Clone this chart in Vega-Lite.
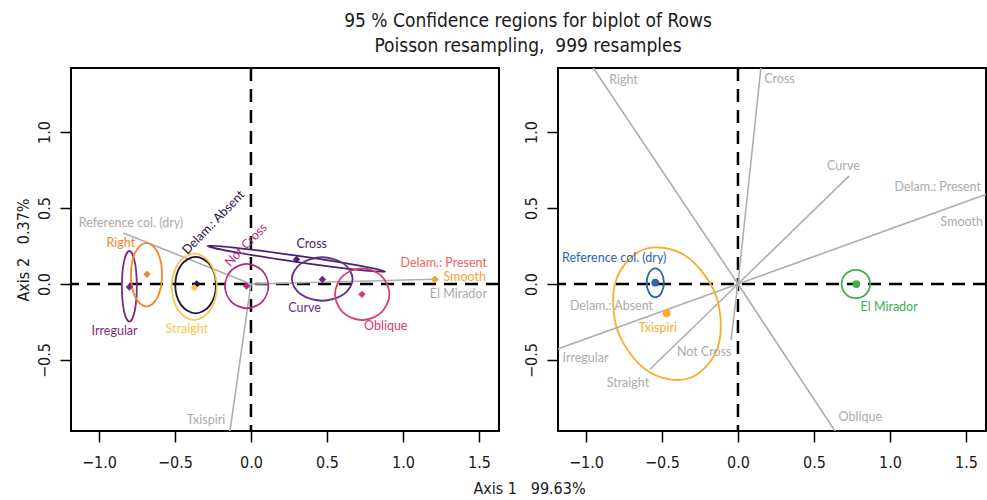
{
  "$schema": "https://vega.github.io/schema/vega-lite/v6.json",
  "padding": {"left": 14, "top": 11, "right": 0, "bottom": 0},
  "background": "white",
  "title": {
    "text": ["95 % Confidence regions for biplot of Rows", "Poisson resampling,\u00a0 999 resamples"],
    "font": "Liberation Sans Narrow, DejaVu Sans Condensed, Roboto, sans-serif",
    "fontSize": 19, "fontWeight": "normal", "lineHeight": 25, "color": "#1a1a1a",
    "anchor": "start", "align": "center", "dx": 457, "frame": "group", "offset": 10
  },
  "config": {
    "view": {"stroke": "black", "strokeWidth": 2},
    "axis": {
      "grid": false, "domain": false, "tickColor": "black", "tickWidth": 1.5, "tickSize": 11,
      "labelFont": "Liberation Sans Narrow, DejaVu Sans Condensed, Roboto, sans-serif",
      "labelFontSize": 16, "labelColor": "#1a1a1a",
      "titleFont": "Liberation Sans Narrow, DejaVu Sans Condensed, Roboto, sans-serif",
      "titleFontSize": 16, "titleFontWeight": "normal", "titleColor": "#1a1a1a"
    },
    "text": {"font": "Lato", "fontSize": 12.5, "baseline": "middle"}
  },
  "datasets": {
    "ellL": [
      {"name": "Irregular", "i": 0, "x": -0.751, "y": -0.015}, {"name": "Irregular", "i": 1, "x": -0.765, "y": 0.149}, {"name": "Irregular", "i": 2, "x": -0.8, "y": 0.217}, {"name": "Irregular", "i": 3, "x": -0.835, "y": 0.149}, {"name": "Irregular", "i": 4, "x": -0.849, "y": -0.015}, {"name": "Irregular", "i": 5, "x": -0.835, "y": -0.179}, {"name": "Irregular", "i": 6, "x": -0.8, "y": -0.247}, {"name": "Irregular", "i": 7, "x": -0.765, "y": -0.179},
      {"name": "Right", "i": 0, "x": -0.585, "y": 0.061}, {"name": "Right", "i": 1, "x": -0.615, "y": 0.21}, {"name": "Right", "i": 2, "x": -0.687, "y": 0.271}, {"name": "Right", "i": 3, "x": -0.76, "y": 0.21}, {"name": "Right", "i": 4, "x": -0.79, "y": 0.061}, {"name": "Right", "i": 5, "x": -0.76, "y": -0.088}, {"name": "Right", "i": 6, "x": -0.687, "y": -0.149}, {"name": "Right", "i": 7, "x": -0.615, "y": -0.088},
      {"name": "Delam.: Absent", "i": 0, "x": -0.23, "y": -0.007}, {"name": "Delam.: Absent", "i": 1, "x": -0.269, "y": 0.125}, {"name": "Delam.: Absent", "i": 2, "x": -0.364, "y": 0.179}, {"name": "Delam.: Absent", "i": 3, "x": -0.459, "y": 0.125}, {"name": "Delam.: Absent", "i": 4, "x": -0.498, "y": -0.007}, {"name": "Delam.: Absent", "i": 5, "x": -0.459, "y": -0.139}, {"name": "Delam.: Absent", "i": 6, "x": -0.364, "y": -0.193}, {"name": "Delam.: Absent", "i": 7, "x": -0.269, "y": -0.139},
      {"name": "Straight", "i": 0, "x": -0.224, "y": -0.018}, {"name": "Straight", "i": 1, "x": -0.268, "y": 0.137}, {"name": "Straight", "i": 2, "x": -0.373, "y": 0.201}, {"name": "Straight", "i": 3, "x": -0.478, "y": 0.137}, {"name": "Straight", "i": 4, "x": -0.522, "y": -0.018}, {"name": "Straight", "i": 5, "x": -0.478, "y": -0.173}, {"name": "Straight", "i": 6, "x": -0.373, "y": -0.237}, {"name": "Straight", "i": 7, "x": -0.268, "y": -0.173},
      {"name": "Not Cross", "i": 0, "x": 0.115, "y": -0.014}, {"name": "Not Cross", "i": 1, "x": 0.073, "y": 0.089}, {"name": "Not Cross", "i": 2, "x": -0.028, "y": 0.132}, {"name": "Not Cross", "i": 3, "x": -0.129, "y": 0.089}, {"name": "Not Cross", "i": 4, "x": -0.171, "y": -0.014}, {"name": "Not Cross", "i": 5, "x": -0.129, "y": -0.117}, {"name": "Not Cross", "i": 6, "x": -0.028, "y": -0.16}, {"name": "Not Cross", "i": 7, "x": 0.073, "y": -0.117},
      {"name": "Cross", "i": 0, "x": 0.882, "y": 0.082}, {"name": "Cross", "i": 1, "x": 0.713, "y": 0.1205}, {"name": "Cross", "i": 2, "x": 0.301, "y": 0.186}, {"name": "Cross", "i": 3, "x": -0.113, "y": 0.2395}, {"name": "Cross", "i": 4, "x": -0.286, "y": 0.25}, {"name": "Cross", "i": 5, "x": -0.117, "y": 0.2115}, {"name": "Cross", "i": 6, "x": 0.295, "y": 0.146}, {"name": "Cross", "i": 7, "x": 0.709, "y": 0.0925},
      {"name": "Curve", "i": 0, "x": 0.669, "y": 0.033}, {"name": "Curve", "i": 1, "x": 0.61, "y": 0.134}, {"name": "Curve", "i": 2, "x": 0.469, "y": 0.176}, {"name": "Curve", "i": 3, "x": 0.328, "y": 0.134}, {"name": "Curve", "i": 4, "x": 0.269, "y": 0.033}, {"name": "Curve", "i": 5, "x": 0.328, "y": -0.068}, {"name": "Curve", "i": 6, "x": 0.469, "y": -0.11}, {"name": "Curve", "i": 7, "x": 0.61, "y": -0.068},
      {"name": "Oblique", "i": 0, "x": 0.911, "y": -0.067}, {"name": "Oblique", "i": 1, "x": 0.858, "y": 0.053}, {"name": "Oblique", "i": 2, "x": 0.732, "y": 0.103}, {"name": "Oblique", "i": 3, "x": 0.605, "y": 0.053}, {"name": "Oblique", "i": 4, "x": 0.553, "y": -0.067}, {"name": "Oblique", "i": 5, "x": 0.605, "y": -0.187}, {"name": "Oblique", "i": 6, "x": 0.732, "y": -0.237}, {"name": "Oblique", "i": 7, "x": 0.858, "y": -0.187}
    ],
    "ptsL": [
      {"name": "Irregular", "x": -0.8, "y": -0.02},
      {"name": "Right", "x": -0.684, "y": 0.064},
      {"name": "Delam.: Absent", "x": -0.357, "y": 0.0},
      {"name": "Straight", "x": -0.373, "y": -0.024},
      {"name": "Not Cross", "x": -0.029, "y": -0.013},
      {"name": "Cross", "x": 0.3, "y": 0.162},
      {"name": "Curve", "x": 0.47, "y": 0.03},
      {"name": "Oblique", "x": 0.73, "y": -0.068},
      {"name": "Delam.: Present", "x": 1.21, "y": 0.03},
      {"name": "Smooth", "x": 1.21, "y": 0.03}
    ],
    "colL": [
      {"name": "Reference col. (dry)", "x": -0.84, "y": 0.335},
      {"name": "El Mirador", "x": 1.204, "y": 0.031},
      {"name": "Txispiri", "x": -0.15, "y": -1.05}
    ],
    "labL": [
      {"name": "Reference col. (dry)", "x": -0.789, "y": 0.401},
      {"name": "Right", "x": -0.856, "y": 0.268},
      {"name": "Irregular", "x": -0.897, "y": -0.307},
      {"name": "Straight", "x": -0.422, "y": -0.296},
      {"name": "Cross", "x": 0.4, "y": 0.261},
      {"name": "Curve", "x": 0.353, "y": -0.16},
      {"name": "Oblique", "x": 0.887, "y": -0.274},
      {"name": "Txispiri", "x": -0.296, "y": -0.895},
      {"name": "Delam.: Absent", "x": -0.247, "y": 0.405},
      {"name": "Not Cross", "x": -0.033, "y": 0.257},
      {"name": "Delam.: Present", "x": 1.553, "y": 0.136},
      {"name": "Smooth", "x": 1.546, "y": 0.048},
      {"name": "El Mirador", "x": 1.553, "y": -0.066}
    ],
    "rowR": [
      {"name": "Right", "x": -1.047, "y": 1.563},
      {"name": "Cross", "x": 0.166, "y": 1.563},
      {"name": "Curve", "x": 0.732, "y": 0.711},
      {"name": "Smooth", "x": 1.7, "y": 0.614},
      {"name": "Oblique", "x": 0.697, "y": -1.056},
      {"name": "Not Cross", "x": -0.046, "y": -0.368},
      {"name": "Straight", "x": -0.579, "y": -0.561},
      {"name": "Irregular", "x": -1.25, "y": -0.45}
    ],
    "ellR": [
      {"name": "Reference col. (dry)", "i": 0, "x": -0.487, "y": 0.008}, {"name": "Reference col. (dry)", "i": 1, "x": -0.504, "y": 0.075}, {"name": "Reference col. (dry)", "i": 2, "x": -0.544, "y": 0.103}, {"name": "Reference col. (dry)", "i": 3, "x": -0.584, "y": 0.075}, {"name": "Reference col. (dry)", "i": 4, "x": -0.601, "y": 0.008}, {"name": "Reference col. (dry)", "i": 5, "x": -0.584, "y": -0.059}, {"name": "Reference col. (dry)", "i": 6, "x": -0.544, "y": -0.087}, {"name": "Reference col. (dry)", "i": 7, "x": -0.504, "y": -0.059},
      {"name": "Txispiri", "i": 0, "x": -0.6186, "y": 0.2285}, {"name": "Txispiri", "i": 1, "x": -0.8027, "y": 0.0227}, {"name": "Txispiri", "i": 2, "x": -0.7901, "y": -0.3107}, {"name": "Txispiri", "i": 3, "x": -0.5883, "y": -0.5763}, {"name": "Txispiri", "i": 4, "x": -0.3154, "y": -0.6185}, {"name": "Txispiri", "i": 5, "x": -0.1313, "y": -0.4127}, {"name": "Txispiri", "i": 6, "x": -0.1439, "y": -0.0793}, {"name": "Txispiri", "i": 7, "x": -0.3457, "y": 0.1863},
      {"name": "El Mirador", "i": 0, "x": 0.87, "y": 0.0}, {"name": "El Mirador", "i": 1, "x": 0.842, "y": 0.066}, {"name": "El Mirador", "i": 2, "x": 0.776, "y": 0.093}, {"name": "El Mirador", "i": 3, "x": 0.71, "y": 0.066}, {"name": "El Mirador", "i": 4, "x": 0.682, "y": 0.0}, {"name": "El Mirador", "i": 5, "x": 0.71, "y": -0.066}, {"name": "El Mirador", "i": 6, "x": 0.776, "y": -0.093}, {"name": "El Mirador", "i": 7, "x": 0.842, "y": -0.066}
    ],
    "ptsR": [
      {"name": "Reference col. (dry)", "x": -0.544, "y": 0.009},
      {"name": "Txispiri", "x": -0.469, "y": -0.193},
      {"name": "El Mirador", "x": 0.779, "y": 0.0}
    ],
    "labR": [
      {"name": "Right", "x": -0.753, "y": 1.342},
      {"name": "Cross", "x": 0.273, "y": 1.349},
      {"name": "Curve", "x": 0.694, "y": 0.778},
      {"name": "Reference col. (dry)", "x": -0.814, "y": 0.169},
      {"name": "Delam.: Absent", "x": -0.832, "y": -0.143},
      {"name": "Txispiri", "x": -0.528, "y": -0.288},
      {"name": "El Mirador", "x": 0.995, "y": -0.153},
      {"name": "Irregular", "x": -1.003, "y": -0.489},
      {"name": "Not Cross", "x": -0.222, "y": -0.445},
      {"name": "Straight", "x": -0.724, "y": -0.649},
      {"name": "Oblique", "x": 0.805, "y": -0.873},
      {"name": "Delam.: Present", "x": 1.599, "y": 0.64},
      {"name": "Smooth", "x": 1.612, "y": 0.41}
    ]
  },
  "resolve": {"scale": {"color": "independent"}},
  "spacing": 59,
  "bounds": "flush",
  "hconcat": [
    {
      "width": 428, "height": 363,
      "layer": [
        {
          "data": {"values": [{}]},
          "mark": {"type": "rule", "color": "black", "strokeWidth": 2.5, "strokeDash": [13, 8]},
          "encoding": {
            "x": {"datum": 0, "type": "quantitative", "scale": {"domain": [-1.184, 1.632], "nice": false, "zero": false},
              "axis": {"values": [-1, -0.5, 0, 0.5, 1, 1.5], "format": ".1f", "labelPadding": 12, "title": "Axis 1\u00a0\u00a0 99.63%", "titleX": 458, "titlePadding": 10}}
          }
        },
        {
          "data": {"values": [{}]},
          "mark": {"type": "rule", "color": "black", "strokeWidth": 2.5, "strokeDash": [13, 8]},
          "encoding": {
            "y": {"datum": 0, "type": "quantitative", "scale": {"domain": [-0.967, 1.421], "nice": false, "zero": false},
              "axis": {"values": [-0.5, 0, 0.5, 1], "format": ".1f", "labelAngle": -90, "labelAlign": "center", "labelBaseline": "bottom", "labelPadding": 8, "title": "Axis 2\u00a0\u00a0 0.37%", "titlePadding": 5}}
          }
        },
        {
          "data": {"name": "colL"},
          "mark": {"type": "rule", "color": "#AEAEAE", "strokeWidth": 1.6, "clip": true},
          "encoding": {
            "x": {"field": "x", "type": "quantitative"},
            "y": {"field": "y", "type": "quantitative"},
            "x2": {"datum": 0},
            "y2": {"datum": 0}
          }
        },
        {
          "data": {"name": "ellL"},
          "mark": {"type": "line", "interpolate": "cardinal-closed", "strokeWidth": 1.8},
          "encoding": {
            "x": {"field": "x", "type": "quantitative"},
            "y": {"field": "y", "type": "quantitative"},
            "order": {"field": "i", "type": "quantitative"},
            "color": {"field": "name", "type": "nominal", "legend": null,
              "scale": {"domain": ["Irregular", "Right", "Delam.: Absent", "Straight", "Not Cross", "Cross", "Curve", "Oblique", "Delam.: Present", "Smooth", "Reference col. (dry)", "Txispiri", "El Mirador"],
                "range": ["#7D2B86", "#F4862B", "#1D1237", "#F6C853", "#B42A7F", "#4A2270", "#6A2B8D", "#D73E6D", "#F2625B", "#F6A43B", "#ABABAB", "#ABABAB", "#ABABAB"]}}
          }
        },
        {
          "data": {"name": "ptsL"},
          "mark": {"type": "point", "shape": "diamond", "filled": true, "opacity": 1, "size": 55},
          "encoding": {
            "x": {"field": "x", "type": "quantitative"},
            "y": {"field": "y", "type": "quantitative"},
            "color": {"field": "name", "type": "nominal", "legend": null}
          }
        },
        {
          "data": {"name": "labL"},
          "transform": [{"filter": {"field": "name", "oneOf": ["Reference col. (dry)", "Right", "Irregular", "Straight", "Cross", "Curve", "Oblique", "Txispiri"]}}],
          "mark": {"type": "text", "align": "center"},
          "encoding": {
            "x": {"field": "x", "type": "quantitative"},
            "y": {"field": "y", "type": "quantitative"},
            "text": {"field": "name"},
            "color": {"field": "name", "type": "nominal", "legend": null}
          }
        },
        {
          "data": {"name": "labL"},
          "transform": [{"filter": {"field": "name", "oneOf": ["Delam.: Absent", "Not Cross"]}}],
          "mark": {"type": "text", "align": "center", "angle": -46},
          "encoding": {
            "x": {"field": "x", "type": "quantitative"},
            "y": {"field": "y", "type": "quantitative"},
            "text": {"field": "name"},
            "color": {"field": "name", "type": "nominal", "legend": null}
          }
        },
        {
          "data": {"name": "labL"},
          "transform": [{"filter": {"field": "name", "oneOf": ["Delam.: Present", "Smooth", "El Mirador"]}}],
          "mark": {"type": "text", "align": "right"},
          "encoding": {
            "x": {"field": "x", "type": "quantitative"},
            "y": {"field": "y", "type": "quantitative"},
            "text": {"field": "name"},
            "color": {"field": "name", "type": "nominal", "legend": null}
          }
        }
      ]
    },
    {
      "width": 428, "height": 363,
      "layer": [
        {
          "data": {"values": [{}]},
          "mark": {"type": "rule", "color": "black", "strokeWidth": 2.5, "strokeDash": [13, 8]},
          "encoding": {
            "x": {"datum": 0, "type": "quantitative", "scale": {"domain": [-1.184, 1.632], "nice": false, "zero": false},
              "axis": {"values": [-1, -0.5, 0, 0.5, 1, 1.5], "format": ".1f", "labelPadding": 12, "title": null}}
          }
        },
        {
          "data": {"values": [{}]},
          "mark": {"type": "rule", "color": "black", "strokeWidth": 2.5, "strokeDash": [13, 8]},
          "encoding": {
            "y": {"datum": 0, "type": "quantitative", "scale": {"domain": [-0.967, 1.421], "nice": false, "zero": false},
              "axis": {"values": [-0.5, 0, 0.5, 1], "format": ".1f", "labelAngle": -90, "labelAlign": "center", "labelBaseline": "bottom", "labelPadding": 8, "title": null}}
          }
        },
        {
          "data": {"name": "rowR"},
          "mark": {"type": "rule", "color": "#AEAEAE", "strokeWidth": 1.6, "clip": true},
          "encoding": {
            "x": {"field": "x", "type": "quantitative"},
            "y": {"field": "y", "type": "quantitative"},
            "x2": {"datum": 0},
            "y2": {"datum": 0}
          }
        },
        {
          "data": {"name": "ellR"},
          "mark": {"type": "line", "interpolate": "cardinal-closed", "strokeWidth": 1.8},
          "encoding": {
            "x": {"field": "x", "type": "quantitative"},
            "y": {"field": "y", "type": "quantitative"},
            "order": {"field": "i", "type": "quantitative"},
            "color": {"field": "name", "type": "nominal", "legend": null,
              "scale": {"domain": ["Reference col. (dry)", "Txispiri", "El Mirador", "Right", "Cross", "Curve", "Delam.: Present", "Smooth", "Irregular", "Straight", "Not Cross", "Delam.: Absent", "Oblique"],
                "range": ["#2F63AE", "#F9AC2A", "#3DB04B", "#ABABAB", "#ABABAB", "#ABABAB", "#ABABAB", "#ABABAB", "#ABABAB", "#ABABAB", "#ABABAB", "#ABABAB", "#ABABAB"]}}
          }
        },
        {
          "data": {"name": "ptsR"},
          "mark": {"type": "point", "shape": "circle", "filled": true, "opacity": 1, "size": 60},
          "encoding": {
            "x": {"field": "x", "type": "quantitative"},
            "y": {"field": "y", "type": "quantitative"},
            "color": {"field": "name", "type": "nominal", "legend": null}
          }
        },
        {
          "data": {"name": "labR"},
          "transform": [{"filter": {"not": {"field": "name", "oneOf": ["Delam.: Present", "Smooth"]}}}],
          "mark": {"type": "text", "align": "center"},
          "encoding": {
            "x": {"field": "x", "type": "quantitative"},
            "y": {"field": "y", "type": "quantitative"},
            "text": {"field": "name"},
            "color": {"field": "name", "type": "nominal", "legend": null}
          }
        },
        {
          "data": {"name": "labR"},
          "transform": [{"filter": {"field": "name", "oneOf": ["Delam.: Present", "Smooth"]}}],
          "mark": {"type": "text", "align": "right"},
          "encoding": {
            "x": {"field": "x", "type": "quantitative"},
            "y": {"field": "y", "type": "quantitative"},
            "text": {"field": "name"},
            "color": {"field": "name", "type": "nominal", "legend": null}
          }
        }
      ]
    }
  ]
}
